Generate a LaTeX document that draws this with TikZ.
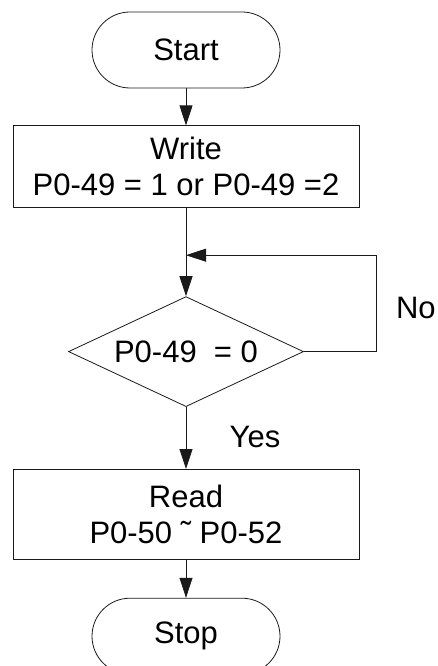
\documentclass[tikz,border=0pt]{standalone}
\usepackage{fontspec}
\setmainfont{Liberation Sans}
\usetikzlibrary{arrows.meta,positioning,shapes.geometric}
\definecolor{cInk}{HTML}{1A1A1A}
\tikzset{
  font=\fontsize{31}{36}\selectfont,
  term/.style={rounded corners=38pt, draw=cInk, line width=0.8pt, minimum width=188pt, minimum height=76pt, inner sep=0pt, align=center},
  proc/.style={draw=cInk, line width=0.8pt, minimum width=346pt, align=center, inner sep=0pt},
  decis/.style={diamond, draw=cInk, line width=0.8pt, minimum width=235pt, minimum height=110pt, aspect=2.14, inner sep=0pt},
  flow/.style={-{Triangle[length=20pt, width=13pt]}, line width=0.8pt, draw=cInk},
  lbl/.style={inner sep=0pt},
}

\begin{document}
\begin{tikzpicture}
\useasboundingbox (0,0) rectangle (437pt,-666pt);
\node[term] (start) at (186pt,-50pt) {Start};
\node[proc, minimum height=82pt, below=37pt of start] (write) {Write\\P0-49 = 1 or P0-49 =2};
\node[decis, below=88pt of write] (chk) {P0-49~ = 0};
\node[proc, minimum height=90pt, below=62pt of chk] (read) {Read\\P0-50 \symbol{"02DC} P0-52};
\node[term, below=38pt of read] (stop) {Stop};
\coordinate[right=72pt of chk.east] (nr);
\coordinate (nj) at ([yshift=41pt]chk.north);
\node[lbl] (no) at ([xshift=40pt,yshift=44pt]nr) {No};
\node[lbl] (yes) at ([xshift=69pt,yshift=-30pt]chk.south) {Yes};
\draw[flow](start)--(write);
\draw[flow](write)--(chk);
\draw[flow](chk.east)--(nr)|-(nj);
\draw[flow](chk)--(read);
\draw[flow](read)--(stop);
\end{tikzpicture}
\end{document}
